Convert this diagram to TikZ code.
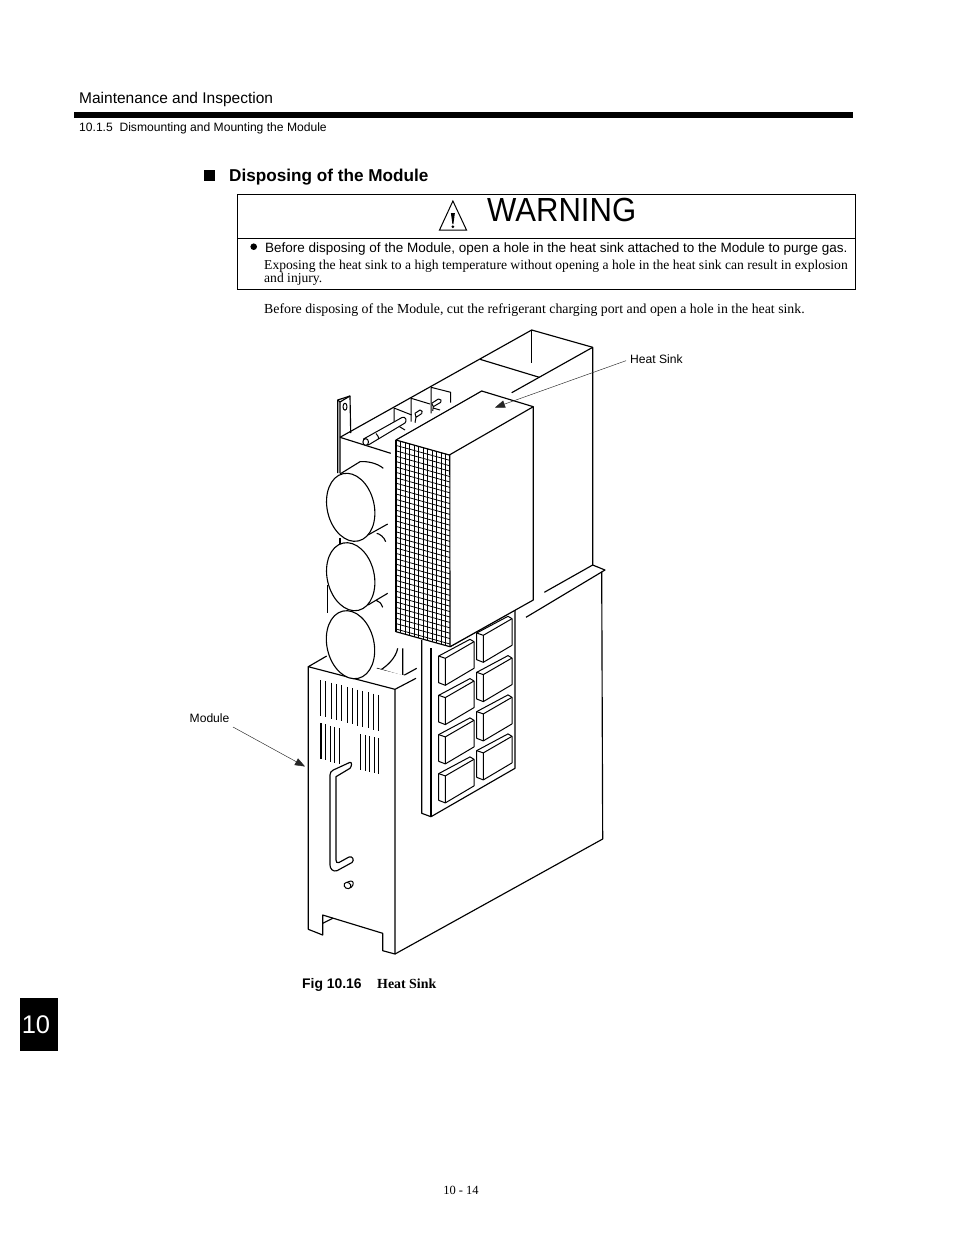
\documentclass[tikz,border=0pt]{standalone}
\usepackage{fontspec}
\setmainfont{Liberation Serif}
\setsansfont{Liberation Sans}
\usetikzlibrary{arrows.meta}
\newcommand{\fsz}[1]{\fontsize{#1pt}{#1pt}\selectfont}
\tikzset{
  ln/.style={line width=1.15pt,black,line join=round},
  fine/.style={line width=1pt,black,line join=round},
  txt/.style={inner sep=0pt,anchor=base west},
  sanslabel/.style={txt,font=\sffamily\fsz{12.1}},
  leader/.style={line width=.45pt,black!85,-{Triangle[length=10pt,width=7.5pt]}},
  cyl/.style={ln,line width=1.1pt,fill=white},
  vent/.style={line width=1pt,black},
}
\newcommand{\pcb}[2]{%
  \begin{scope}[shift={(#1,#2)}]
    \draw[fine,fill=white] (0,0) -- (31.3,-16.7) -- (35.3,-14.3) -- (35.3,12.3) -- (6.6,29.3) -- (0,26.7) -- cycle;
    \draw[fine] (0,0) -- (6.6,2.3) -- (35.3,-14.3) (6.6,2.3) -- (6.6,29.3);
  \end{scope}}
\begin{document}
\begin{tikzpicture}[x=1pt,y=-1pt]
\useasboundingbox (0,0) rectangle (954,1235);
\fill[white] (0,0) rectangle (954,1235);
% Header
\node[txt,font=\sffamily\fsz{15.5}] (hdr) at (79,103) {Maintenance and Inspection};
\fill[black] (74,112) rectangle (852.5,117.5);
\node[txt,font=\sffamily\fsz{12.1}] (sub) at (79,131) {10.1.5\ \ Dismounting and Mounting the Module};
\fill[black] (204,170) rectangle (215,181);
\node[txt,font=\sffamily\bfseries\fsz{17.15}] (sec) at (229,181) {Disposing of the Module};
% Warning box
\draw[line width=.9pt] (237.5,194.5) rectangle (855.5,289.5);
\draw[line width=.9pt] (237.5,238) -- (855.5,238);
\draw[line width=1pt,line join=miter] (452.9,201) -- (466.5,230) -- (439.5,230) -- cycle;
\fill[black] (450.9,213) -- (454.9,213) -- (453.4,224) -- (452.4,224) -- cycle;
\fill[black] (452.9,226.7) circle (1.5);
\node[txt,font=\sffamily\fsz{33.4}] (warn) at (487,221.5) {\scalebox{.93}[1]{WARNING}};
\fill[black] (253.7,246.7) circle (3.3);
\node[txt,font=\sffamily\fsz{13.5}] (w1) at (265,252) {Before disposing of the Module, open a hole in the heat sink attached to the Module to purge gas.};
\node[txt,font=\fsz{13.6}] (w2) at (264,269) {Exposing the heat sink to a high temperature without opening a hole in the heat sink can result in explosion};
\node[txt,font=\fsz{13.6}] (w3) at (264,282) {and injury.};
\node[txt,font=\fsz{13.82}] (body) at (264,313) {Before disposing of the Module, cut the refrigerant charging port and open a hole in the heat sink.};
% ---------- back box
\draw[ln] (340,437.3) -- (531.7,330) -- (592.7,347.3) -- (592.7,565);
\draw[ln] (531.7,330) -- (531.7,362.7);
\draw[ln] (592.7,347.3) -- (511.7,392.7);
\draw[ln] (480,359.3) -- (539.3,377.3);
% bracket
\draw[ln] (337.7,473) -- (337.7,400) -- (350,396) -- (350.7,433);
\draw[ln] (340,473) -- (340,402) (337.7,400) -- (340,402) -- (350,396);
\draw[fine] (345,406.7) ellipse [x radius=2pt,y radius=3.5pt];
\draw[ln] (340,437.3) -- (390.7,453.3);
% steps
\draw[fine] (394,408) -- (394,430) (394,408) -- (411.7,415);
\draw[fine] (411.2,398.3) -- (411.2,421.7) (411.2,398.3) -- (430,404);
\draw[fine] (431,387.3) -- (431,413.3) (431,387.3) -- (450.7,392.3) -- (450.7,402.7);
\draw[fine] (394,423.3) -- (405,430) (433,408) -- (440,410);
% pins
\draw[fine,fill=white] (363.5,439) -- (402,417.5) .. controls (406,416) and (407,421) .. (405,423) -- (368.3,445) -- cycle;
\draw[fine,fill=white] (365.7,442) ellipse [x radius=2.8pt,y radius=3.4pt];
\draw[fine] (376,433.5) .. controls (378,435) and (379,438) .. (378.5,439);
\draw[fine,fill=white] (415,413.3) -- (420,410) .. controls (422,410) and (423,412) .. (421.7,413.6) -- (416,417.3) -- cycle;
\draw[fine] (416,417.3) -- (415,422.7);
\draw[fine,fill=white] (431.7,403.3) -- (438.3,399) .. controls (441,398.5) and (442,401) .. (440.7,402.3) -- (433.3,406.7) -- cycle;
\draw[fine] (433.3,406.7) -- (432.7,411);
% cylinders
\draw[cyl] (340,474) -- (360,461.7) .. controls (367,461) and (377,463) .. (383.3,468.3);
\draw[cyl] (368,535) -- (387.7,524) (376.7,533.3) .. controls (380,534) and (384,537) .. (385.7,541.7);
\draw[ln] (340,538) -- (340,546);
\draw[cyl] (368,605) -- (387.7,593.3) (376.7,600.7) .. controls (379,601) and (381,603) .. (382.7,607.3);
\draw[ln] (327.3,585) -- (327.3,613);
\draw[cyl,rotate around={13:(350.7,507.3)}] (350.7,507.3) ellipse [x radius=23.5pt,y radius=34.5pt];
\draw[cyl,rotate around={13:(350.7,576.7)}] (350.7,576.7) ellipse [x radius=23.5pt,y radius=34.5pt];
\draw[ln] (397.7,648.3) .. controls (396,658) and (386,668) .. (375,673);
\draw[ln] (402.7,648.3) -- (402.7,676) (376.7,668.3) -- (402.7,676) -- (416.7,668.3);
% module top & sides
\draw[ln,fill=white] (326.7,656) -- (308.3,666.7) -- (395,689.3) -- (416,678.3);
\draw[cyl,rotate around={13:(350.5,644.7)}] (350.5,644.7) ellipse [x radius=23.5pt,y radius=34.5pt];
\draw[ln] (308.3,666.7) -- (308.3,929.3) -- (322.7,935) -- (322.7,915) -- (382.7,933.3) -- (382.7,950.7) -- (395,954) -- (395,689.3);
\draw[ln] (322.7,923.3) -- (332.7,918.3);
\draw[ln] (395,954) -- (602.7,839) -- (601.7,571.7);
% shelf
\draw[ln] (592.7,565) -- (605,570) -- (526,617.3);
\draw[ln] (592.7,565) -- (544.3,592.3);
% PCB panel
\draw[ln] (421.7,640) -- (421.7,813.3) -- (431,816.7) -- (515,768.3) -- (515,610);
\draw[ln] (431,816.7) -- (431,648);
\draw[ln] (450,646.7) -- (515,610);
\foreach \yy in {0,39.3,78.6,117.6} {
  \pcb{438.7}{656+\yy}
  \pcb{476.7}{633+\yy}
}
% heat sink
\draw[ln,fill=white] (396,440) -- (481.7,391) -- (533.3,406.7) -- (533.3,600) -- (450,646.7) -- (396,631.7) -- cycle;
\draw[ln] (533.3,406.7) -- (449.3,455) -- (396,440);
\begin{scope}
  \clip (396,440) -- (449.8,455) -- (450,646.7) -- (396,631.7) -- cycle;
  \foreach \i in {0,...,12} \draw[line width=.85pt] ({396+\i*4.5},430) -- ({396+\i*4.5},650);
  \foreach \j in {0,...,36} \draw[line width=.75pt] (396,{440+\j*5.4}) -- (450,{455+\j*5.4});
\end{scope}
\draw[ln] (449.8,455) -- (450,646.7);
\draw[ln] (396,440) -- (396,631.7);
% vents
\foreach \i in {0,...,11} \draw[vent] ({320.7+\i*5.27},{680+\i*1.36}) -- ({320.7+\i*5.27},{716+\i*1.36});
\draw[line width=1.7pt] (321,723) -- (321,758.5);
\draw[line width=1.7pt] (325.5,724) -- (325.5,760);
\foreach \x/\a in {330/726,334.7/727,339.3/728} \draw[vent] (\x,\a) -- (\x,\a+36);
\foreach \x/\a in {360.7/734,365/735,369.3/736,374/737,378.7/738} \draw[vent] (\x,\a) -- (\x,\a+36);
% handle
\draw[ln,fill=white] (350,762.3) -- (333.3,770) .. controls (331,771) and (330,773) .. (330,775) -- (330,865) .. controls (330,869) and (333,872) .. (337,870.7) -- (352,862.5) .. controls (355,860) and (352,855.5) .. (349,857) -- (339,862.5) .. controls (337,863.5) and (336,862) .. (336,860) -- (336,776.7) -- (350,768.3) .. controls (352,766) and (352,762) .. (350,762.3);
% knob
\draw[fine,fill=white] (347.5,882) -- (351,881) .. controls (354,881) and (354,885) .. (351,887.5) -- (348,888);
\draw[fine,fill=white,rotate around={-30:(347.5,885.5)}] (347.5,885.5) ellipse [x radius=3.6pt,y radius=3pt];
% leaders and labels
\node[sanslabel] (hs) at (630,363) {Heat Sink};
\coordinate (hsa) at (495,407.5);
\draw[leader] (hs.west) ++(-4,2) -- (hsa);
\node[sanslabel] (mod) at (189.5,722) {Module};
\coordinate (modb) at (233,727);
\coordinate (moda) at (305,766.5);
\draw[leader] (modb) -- (moda);
% caption
\node[txt,font=\sffamily\bfseries\fsz{13.9}] (fig) at (302,988) {Fig 10.16};
\node[txt,font=\bfseries\fsz{13.9}] (figt) at (377,988) {Heat Sink};
% tab
\node[fill=black,minimum width=38pt,minimum height=53pt,inner sep=0pt] (tab) at (39,1024.5) {};
\node[inner sep=0pt,text=white,font=\sffamily\fsz{25.5}] (tabn) at (36,1024.5) {10};
\node[inner sep=0pt,anchor=base,font=\fsz{12.5}] (pg) at (461,1194) {10 - 14};
\end{tikzpicture}
\end{document}
